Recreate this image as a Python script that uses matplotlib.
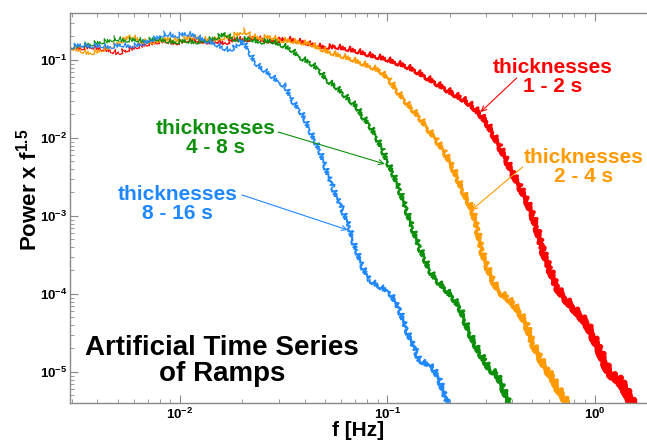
"""Power spectra (x f^1.5) of artificial ramp time series, four thickness bands."""
import matplotlib

matplotlib.use("Agg")
import matplotlib.pyplot as plt  # noqa: E402
import numpy as np  # noqa: E402
from matplotlib.collections import LineCollection  # noqa: E402
from matplotlib.ticker import FixedLocator, LogLocator, NullFormatter  # noqa: E402

plt.rcParams["font.family"] = ["Liberation Sans", "DejaVu Sans"]
plt.rcParams["font.weight"] = "bold"
plt.rcParams["mathtext.fontset"] = "custom"
plt.rcParams["mathtext.rm"] = "Liberation Sans:bold"
plt.rcParams["mathtext.it"] = "Liberation Sans:bold"
plt.rcParams["mathtext.bf"] = "Liberation Sans:bold"

# --- values (frequency in Hz, power x f^1.5) ---
red_f = [0.00295, 0.00330, 0.00368, 0.00411, 0.00460, 0.00503, 0.00543, 0.00607, 0.00678, 0.00758,
         0.00847, 0.00946, 0.01057, 0.0118, 0.0132, 0.0147, 0.0165, 0.0184, 0.0206, 0.0230,
         0.0257, 0.0287, 0.0321, 0.0358, 0.0400, 0.0447, 0.0500, 0.0558, 0.0624, 0.0697,
         0.0779, 0.0871, 0.0973, 0.1087, 0.1214, 0.1357, 0.1516, 0.1694, 0.1893, 0.2068,
         0.224, 0.2415, 0.2582, 0.279, 0.3017, 0.3225, 0.348, 0.3766, 0.4026, 0.435,
         0.4703, 0.5027, 0.5256, 0.5616, 0.607, 0.6562, 0.7169, 0.7833, 0.847, 0.915,
         0.978, 1.057, 1.117, 1.18, 1.248, 1.32, 1.395, 1.47, 1.54]
red_p = [0.147, 0.1425, 0.151, 0.1425, 0.134, 0.123, 0.134, 0.147, 0.160, 0.170,
         0.180, 0.165, 0.180, 0.186, 0.170, 0.180, 0.165, 0.191, 0.180, 0.197,
         0.180, 0.175, 0.191, 0.180, 0.170, 0.156, 0.147, 0.151, 0.1425, 0.134,
         0.123, 0.1125, 0.1061, 0.0943, 0.0863, 0.0744, 0.0624, 0.0522, 0.0438, 0.0378,
         0.0335, 0.0298, 0.0257, 0.0209, 0.0160, 0.0116, 0.00789, 0.00522, 0.00356, 0.00242,
         0.00160, 0.00103, 0.000723, 0.000366, 0.000215, 0.000123, 8.89e-5, 6.81e-5, 5.38e-5, 4.25e-5,
         2.98e-5, 1.91e-5, 1.34e-5, 9.71e-6, 8.63e-6, 7.89e-6, 6.24e-6, 4.78e-6, 3.8e-6]

orange_f = [0.00295, 0.00330, 0.00368, 0.00411, 0.00460, 0.00514, 0.00574, 0.00641, 0.00716, 0.00801,
            0.00895, 0.0100, 0.0112, 0.0125, 0.0140, 0.0156, 0.0174, 0.0195, 0.0206, 0.0217,
            0.0243, 0.0272, 0.0304, 0.0339, 0.0379, 0.0423, 0.0473, 0.0529, 0.0591, 0.0660,
            0.0737, 0.0824, 0.0920, 0.103, 0.1111, 0.1214, 0.1312, 0.143, 0.1567, 0.1732,
            0.1893, 0.2068, 0.2187, 0.2311, 0.2443, 0.2582, 0.2729, 0.2854, 0.3017, 0.3225,
            0.348, 0.3766, 0.4026, 0.435, 0.4703, 0.5027, 0.543, 0.5871, 0.6276, 0.6562,
            0.7013, 0.745]
orange_p = [0.147, 0.134, 0.123, 0.134, 0.147, 0.170, 0.209, 0.180, 0.170, 0.180,
            0.191, 0.180, 0.203, 0.191, 0.180, 0.191, 0.203, 0.222, 0.242, 0.209,
            0.191, 0.203, 0.180, 0.180, 0.170, 0.165, 0.1425, 0.1267, 0.1159, 0.1061,
            0.0943, 0.0838, 0.0744, 0.0554, 0.0412, 0.0307, 0.0242, 0.0186, 0.0134, 0.00943,
            0.00662, 0.00425, 0.00307, 0.00215, 0.00160, 0.00119, 0.000661, 0.000366, 0.000235, 0.000151,
            0.000106, 9.15e-5, 7.67e-5, 5.88e-5, 4.00e-5, 2.35e-5, 1.56e-5, 1.06e-5, 8.63e-6, 6.42e-6,
            5.07e-6, 3.8e-6]

green_f = [0.00295, 0.00330, 0.00368, 0.00411, 0.00460, 0.00486, 0.00543, 0.00607, 0.00678, 0.00758,
           0.00847, 0.00946, 0.01057, 0.0118, 0.0132, 0.0147, 0.0165, 0.0178, 0.0195, 0.0217,
           0.0243, 0.0272, 0.0304, 0.0339, 0.0379, 0.0423, 0.0473, 0.0511, 0.0558, 0.0610,
           0.0660, 0.0713, 0.0754, 0.0824, 0.0890, 0.0951, 0.1006, 0.1063, 0.115, 0.1241,
           0.1327, 0.143, 0.1516, 0.160, 0.1732, 0.1893, 0.2068, 0.224, 0.2363, 0.250,
           0.2640, 0.279, 0.2950, 0.312, 0.3371, 0.3602, 0.39]
green_p = [0.147, 0.156, 0.160, 0.170, 0.180, 0.191, 0.180, 0.186, 0.175, 0.191,
           0.180, 0.170, 0.180, 0.170, 0.180, 0.191, 0.222, 0.191, 0.180, 0.191,
           0.170, 0.180, 0.160, 0.1425, 0.1093, 0.0943, 0.0744, 0.0554, 0.0478, 0.0378,
           0.0307, 0.0257, 0.0197, 0.0147, 0.0103, 0.00702, 0.00493, 0.00366, 0.00215, 0.00119,
           0.000702, 0.000400, 0.000289, 0.000203, 0.000151, 0.000119, 9.15e-5, 6.81e-5, 4.64e-5, 3.16e-5,
           2.35e-5, 1.75e-5, 1.43e-5, 1.06e-5, 9.71e-6, 6.42e-6, 3.8e-6]

blue_f = [0.00295, 0.00330, 0.00368, 0.00411, 0.00460, 0.00514, 0.00574, 0.00641, 0.00716, 0.00801,
          0.00847, 0.00946, 0.01057, 0.0118, 0.0132, 0.0147, 0.01594, 0.0174, 0.0188, 0.0201,
          0.0217, 0.0230, 0.0248, 0.0272, 0.0304, 0.0324, 0.0347, 0.0379, 0.0400, 0.0423,
          0.0447, 0.0473, 0.0500, 0.0546, 0.0610, 0.0660, 0.0682, 0.0713, 0.0754, 0.0824,
          0.0900, 0.103, 0.115, 0.1241, 0.1387, 0.143, 0.1657, 0.179, 0.196]
blue_p = [0.147, 0.160, 0.151, 0.156, 0.147, 0.160, 0.151, 0.160, 0.180, 0.203,
          0.222, 0.203, 0.222, 0.209, 0.180, 0.165, 0.147, 0.134, 0.156, 0.180,
          0.127, 0.0943, 0.0789, 0.0662, 0.0507, 0.0464, 0.0307, 0.0229, 0.0180, 0.0127,
          0.00943, 0.00702, 0.00451, 0.00235, 0.00119, 0.000723, 0.000493, 0.000366, 0.000235, 0.000151,
          0.000130, 0.000106, 6.24e-5, 3.46e-5, 1.75e-5, 1.43e-5, 1.16e-5, 7.89e-6, 3.8e-6]

labels = ["thicknesses\n1 - 2 s", "thicknesses\n2 - 4 s",
          "thicknesses\n4 - 8 s", "thicknesses\n8 - 16 s"]
title = "Artificial Time Series\nof Ramps"

RED, ORANGE, GREEN, BLUE = "#ff0000", "#ff9a00", "#0c900c", "#2088ff"
GRAY = "#8a8a8a"


def noisy_trace(ax, f, p, color):
    """Spectrum trace; the noise band gets wider where the spectrum is denser."""
    f = np.asarray(f)
    p = np.asarray(p)
    pts = np.column_stack([f, p])
    segs = np.stack([pts[:-1], pts[1:]], axis=1)
    fm = np.sqrt(f[:-1] * f[1:])
    widths = 0.7 + 3.4 * fm ** 0.6
    lc = LineCollection(segs, colors=color, linewidths=widths, capstyle="round",
                        joinstyle="round")
    lc.set_sketch_params(2.6, 2.5, 3.0)
    ax.add_collection(lc)


fig = plt.figure(figsize=(6.47, 4.43), dpi=100)
ax = fig.add_axes([70 / 647, 40 / 443, 577 / 647, 390 / 443])
ax.set_xscale("log")
ax.set_yscale("log")
ax.set_xlim(0.00295, 1.79)
ax.set_ylim(4.0e-6, 0.40)

noisy_trace(ax, red_f, red_p, RED)
noisy_trace(ax, orange_f, orange_p, ORANGE)
noisy_trace(ax, green_f, green_p, GREEN)
noisy_trace(ax, blue_f, blue_p, BLUE)

# axes frame: grey, ticks inside, right side cut off in the original
for side in ("left", "bottom", "top"):
    ax.spines[side].set_color(GRAY)
    ax.spines[side].set_linewidth(1.0)
ax.spines["right"].set_visible(False)

ax.xaxis.set_major_locator(FixedLocator([1e-2, 1e-1, 1e0]))
ax.yaxis.set_major_locator(FixedLocator([1e-5, 1e-4, 1e-3, 1e-2, 1e-1]))
ax.xaxis.set_minor_locator(LogLocator(base=10, subs=np.arange(2, 10)))
ax.yaxis.set_minor_locator(LogLocator(base=10, subs=np.arange(2, 10)))
ax.xaxis.set_minor_formatter(NullFormatter())
ax.yaxis.set_minor_formatter(NullFormatter())
ax.set_xticklabels([r"$10^{-2}$", r"$10^{-1}$", r"$10^{0}$"])
ax.set_yticklabels([r"$10^{-5}$", r"$10^{-4}$", r"$10^{-3}$", r"$10^{-2}$", r"$10^{-1}$"])
ax.tick_params(which="both", direction="in", color=GRAY, top=True, right=False,
               labelsize=9.5)
ax.tick_params(which="major", length=6, width=0.8)
ax.tick_params(which="minor", length=3, width=0.6)
ax.tick_params(axis="x", pad=3)
ax.tick_params(axis="y", pad=2)

ax.set_xlabel("f [Hz]", fontsize=15, fontweight="bold", labelpad=-1)
fig.text(29 / 647, 1 - 190 / 443, r"Power x f$^{1.5}$", rotation=90,
         ha="center", va="center", fontsize=16, fontweight="bold")

# band labels, each with a thin arrow onto its trace
label_style = dict(fontsize=15, fontweight="bold", ha="center", va="center",
                   linespacing=1.0)
label_pos = [(0.628, 0.0605), (0.885, 0.00425), (0.0149, 0.01), (0.00978, 0.001425)]
arrow_tail = [(0.421, 0.0588), (0.450, 0.00425), (0.0297, 0.01194), (0.0199, 0.00186)]
arrow_tip = [(0.282, 0.0215), (0.2554, 0.00119), (0.0973, 0.00464), (0.0645, 0.000661)]
for text, pos, tail, tip, c in zip(labels, label_pos, arrow_tail, arrow_tip,
                                   [RED, ORANGE, GREEN, BLUE]):
    ax.text(pos[0], pos[1], text, color=c, **label_style)
    ax.annotate("", xy=tip, xytext=tail,
                arrowprops=dict(arrowstyle="->", color=c, lw=0.8, mutation_scale=9,
                                shrinkA=0, shrinkB=0))

ax.text(0.263, 0.108, title, transform=ax.transAxes, fontsize=20, fontweight="bold",
        ha="center", va="center", linespacing=1.0)

fig.savefig("out.png", dpi=100)
